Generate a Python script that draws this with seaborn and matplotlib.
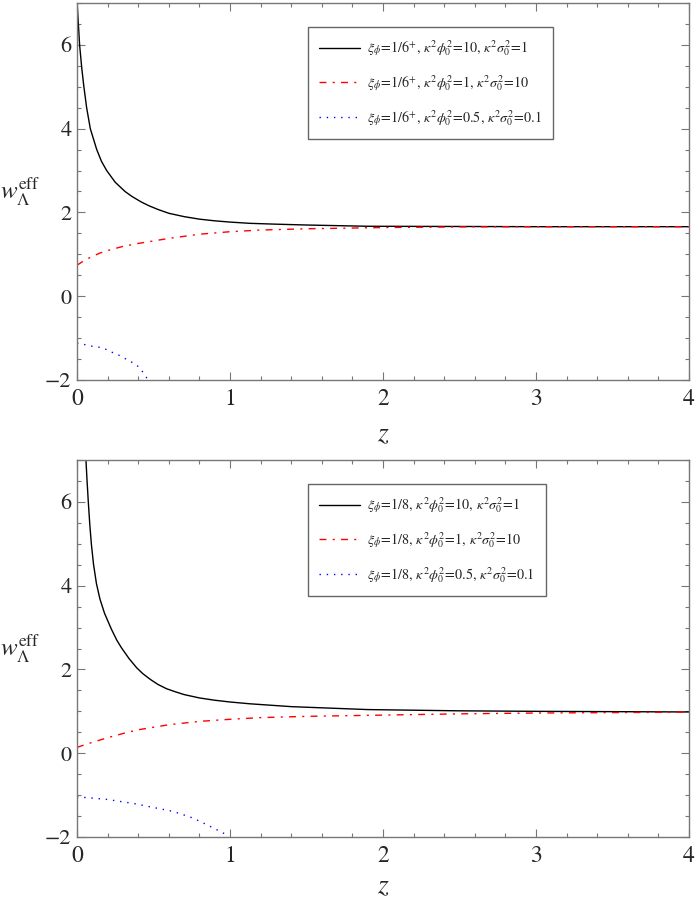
import numpy as np
import pandas as pd
import matplotlib
matplotlib.use("Agg")
import matplotlib.pyplot as plt
import seaborn as sns
from matplotlib.ticker import MultipleLocator

# ---------------- data ----------------
# top panel: xi_phi = 1/6+
top_black_z = [0.0, 0.017, 0.031, 0.044, 0.063, 0.087, 0.129, 0.16, 0.194, 0.25, 0.314, 0.36, 0.42,
               0.47, 0.53, 0.6, 0.7, 0.8, 0.9, 1.0, 1.13, 1.3, 1.5, 1.9, 2.5, 3.0, 4.0]
top_black_w = [7.05, 6.0, 5.45, 5.03, 4.5, 4.0, 3.5, 3.22, 3.0, 2.72, 2.5, 2.38, 2.25,
               2.16, 2.07, 1.98, 1.9, 1.84, 1.8, 1.77, 1.74, 1.72, 1.70, 1.67, 1.665, 1.66, 1.66]

top_red_z = [0.0, 0.05, 0.1, 0.15, 0.2, 0.3, 0.4, 0.5, 0.6, 0.8, 1.0, 1.2, 1.5, 2.0, 2.5, 3.0, 4.0]
top_red_w = [0.74, 0.86, 0.95, 1.03, 1.09, 1.19, 1.26, 1.32, 1.38, 1.48, 1.54, 1.58, 1.61, 1.64, 1.655, 1.66, 1.66]

top_blue_z = [0.0, 0.044, 0.093, 0.137, 0.184, 0.23, 0.27, 0.31, 0.35, 0.39, 0.43, 0.465]
top_blue_w = [-1.12, -1.15, -1.19, -1.21, -1.26, -1.34, -1.40, -1.48, -1.56, -1.64, -1.81, -2.0]

# bottom panel: xi_phi = 1/8
bot_black_z = [0.05, 0.057, 0.065, 0.074, 0.084, 0.094, 0.108, 0.127, 0.15, 0.18, 0.225, 0.26,
               0.29, 0.34, 0.39, 0.43, 0.48, 0.53, 0.585, 0.64, 0.7, 0.8, 0.9, 1.0, 1.13,
               1.4, 1.9, 2.5, 3.0, 4.0]
bot_black_w = [7.67, 7.11, 6.55, 5.99, 5.44, 4.99, 4.51, 4.05, 3.68, 3.34, 2.96, 2.70,
               2.52, 2.26, 2.04, 1.90, 1.76, 1.64, 1.54, 1.47, 1.40, 1.32, 1.265, 1.223, 1.18,
               1.112, 1.042, 1.012, 1.0, 0.985]

bot_red_z = [0.0, 0.1, 0.2, 0.3, 0.4, 0.6, 0.8, 1.0, 1.2, 1.5, 2.0, 2.5, 3.0, 3.5, 4.0]
bot_red_w = [0.14, 0.26, 0.37, 0.47, 0.56, 0.68, 0.76, 0.81, 0.85, 0.88, 0.91, 0.94, 0.96, 0.97, 0.98]

bot_blue_z = [0.0, 0.19, 0.37, 0.52, 0.63, 0.76, 0.85, 0.98]
bot_blue_w = [-1.04, -1.10, -1.20, -1.31, -1.39, -1.55, -1.71, -1.95]

top_labels = [
    r"$\xi_\phi\!=\!1/6^{+},\,\kappa^2\phi_0^2\!=\!10,\,\kappa^2\sigma_0^2\!=\!1$",
    r"$\xi_\phi\!=\!1/6^{+},\,\kappa^2\phi_0^2\!=\!1,\,\kappa^2\sigma_0^2\!=\!10$",
    r"$\xi_\phi\!=\!1/6^{+},\,\kappa^2\phi_0^2\!=\!0.5,\,\kappa^2\sigma_0^2\!=\!0.1$",
]
bot_labels = [
    r"$\xi_\phi\!=\!1/8,\,\kappa^2\phi_0^2\!=\!10,\,\kappa^2\sigma_0^2\!=\!1$",
    r"$\xi_\phi\!=\!1/8,\,\kappa^2\phi_0^2\!=\!1,\,\kappa^2\sigma_0^2\!=\!10$",
    r"$\xi_\phi\!=\!1/8,\,\kappa^2\phi_0^2\!=\!0.5,\,\kappa^2\sigma_0^2\!=\!0.1$",
]

x_ticks = [0, 1, 2, 3, 4]
y_ticks = [-2, 0, 2, 4, 6]

# ---------------- style ----------------
sns.set_theme(style="ticks")
plt.rcParams["font.family"] = ["STIXGeneral", "Liberation Serif", "DejaVu Serif"]
plt.rcParams["mathtext.fontset"] = "stix"
plt.rcParams["axes.unicode_minus"] = True

fig = plt.figure(figsize=(6.98, 9.02), dpi=100)
W, H = 698, 902
ax_top = fig.add_axes([77 / W, 1 - 380 / H, 612 / W, 377 / H])
ax_bot = fig.add_axes([77 / W, 1 - 837 / H, 612 / W, 377 / H])

red_ls = (0, (5, 4.5, 1.5, 4.5))
blue_ls = (0, (1, 4.2))

def draw(ax, bz, bw, rz, rw, uz, uw, labels, zlab_off):
    sns.lineplot(x=bz, y=bw, ax=ax, color="black", lw=1.0, label=labels[0],
                 estimator=None, sort=False)
    sns.lineplot(x=rz, y=rw, ax=ax, color="red", lw=1.0, linestyle=red_ls,
                 label=labels[1], estimator=None, sort=False)
    sns.lineplot(x=uz, y=uw, ax=ax, color="blue", lw=1.0, linestyle=blue_ls,
                 label=labels[2], estimator=None, sort=False)
    ax.set_xlim(0, 4)
    ax.set_ylim(-2, 7)
    ax.set_xticks(x_ticks)
    ax.set_yticks(y_ticks)
    ax.xaxis.set_minor_locator(MultipleLocator(0.2))
    ax.yaxis.set_minor_locator(MultipleLocator(0.5))
    ax.tick_params(which="both", direction="in", top=True, right=True,
                   color="#777777")
    ax.tick_params(axis="x", which="major", labelsize=17, pad=6)
    ax.tick_params(axis="y", which="major", labelsize=16, pad=4)
    ax.tick_params(which="major", length=6, width=0.8)
    ax.tick_params(which="minor", length=3, width=0.8)
    for s in ax.spines.values():
        s.set_color("#777777")
        s.set_linewidth(1.0)
    ax.set_xlabel(r"$z$", fontsize=20, va="center")
    ax.xaxis.set_label_coords(0.5, -zlab_off / 377)
    ax.set_ylabel(r"$w_\Lambda^{\mathrm{eff}}$", fontsize=18, rotation=0,
                  va="center", ha="center")
    ax.yaxis.set_label_coords(-57 / 612, 0.5)
    leg = ax.legend(loc="upper left", bbox_to_anchor=(0.377, 0.936),
                    borderaxespad=0, fontsize=10.2, frameon=True, fancybox=False,
                    handlelength=2.9, handletextpad=0.5, labelspacing=1.05,
                    borderpad=0.8, edgecolor="#666666")
    leg.get_frame().set_linewidth(1.0)
    leg.get_frame().set_alpha(1)

draw(ax_top, top_black_z, top_black_w, top_red_z, top_red_w, top_blue_z, top_blue_w, top_labels, 55)
draw(ax_bot, bot_black_z, bot_black_w, bot_red_z, bot_red_w, bot_blue_z, bot_blue_w, bot_labels, 50)

fig.savefig("out.png", dpi=100)
